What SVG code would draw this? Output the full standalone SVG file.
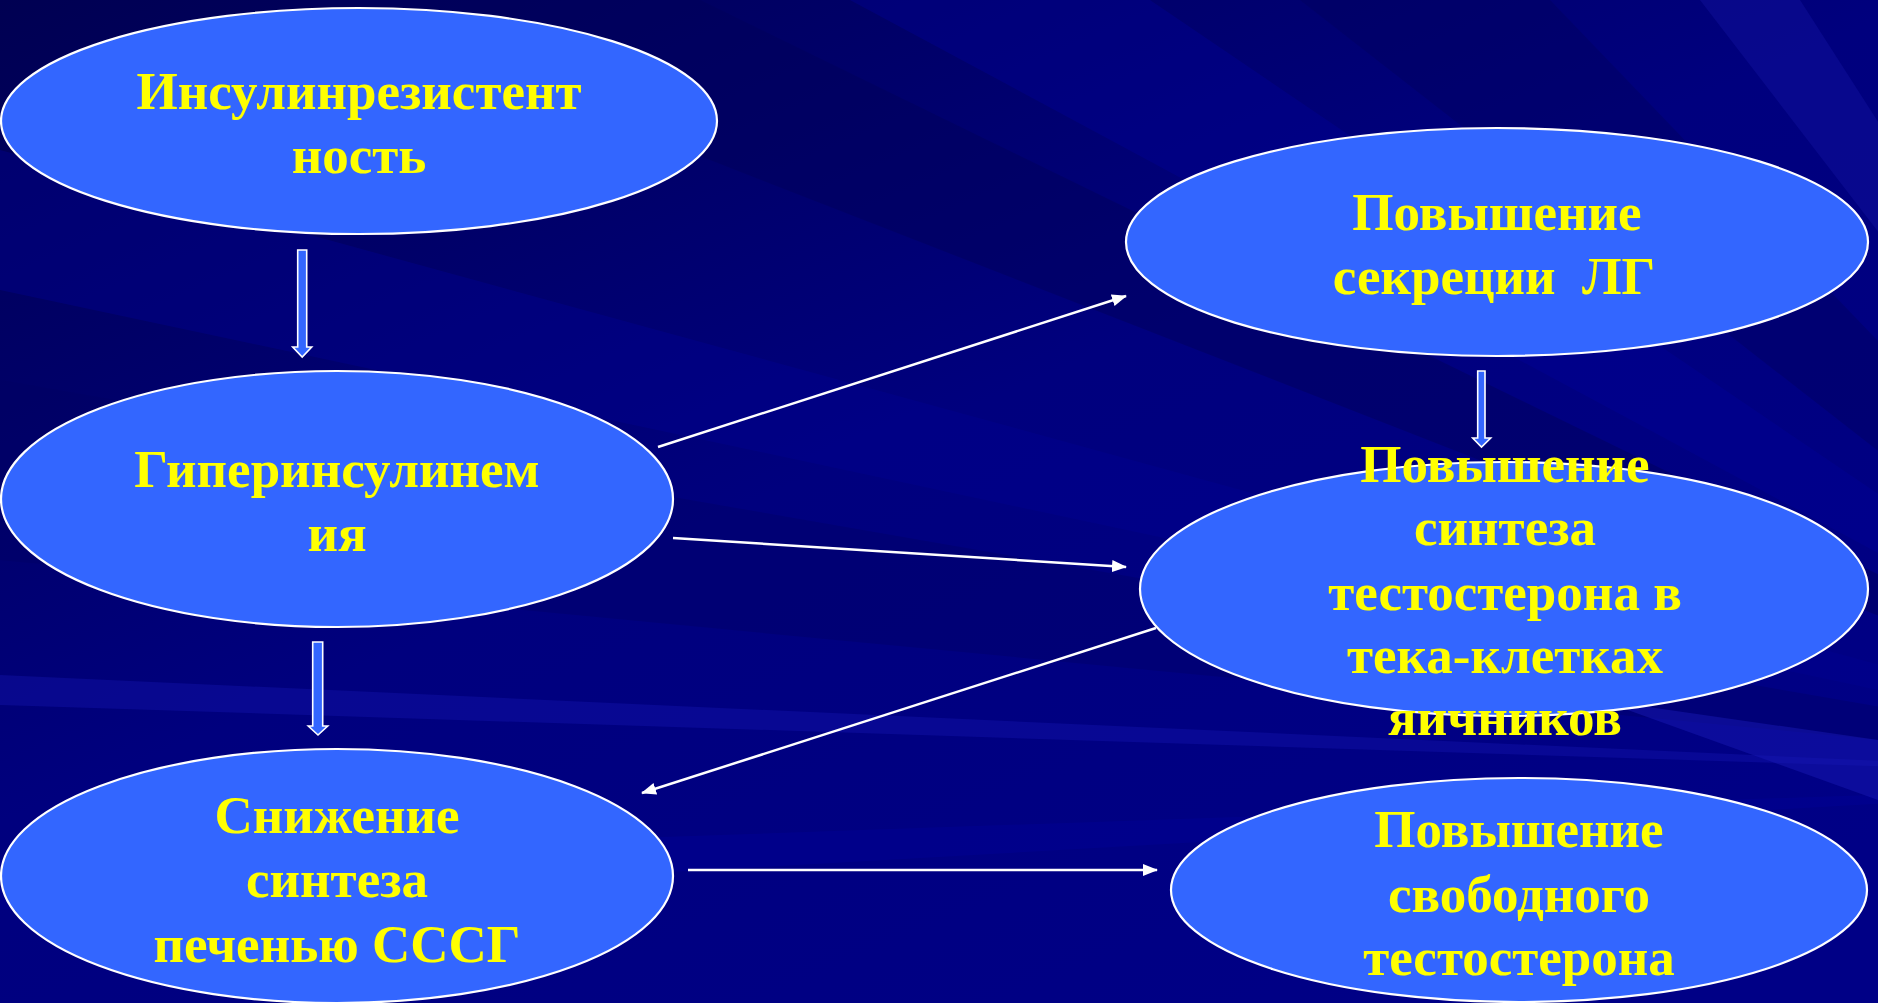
<svg xmlns="http://www.w3.org/2000/svg" width="1878" height="1003" viewBox="0 0 1878 1003">
<style>
.node ellipse{fill:#3366FF;stroke:#FFFFFF;stroke-width:2.2}
.node text{font-family:"Liberation Serif","Times New Roman",serif;font-weight:bold;font-size:53px;fill:#FFFF00;text-anchor:middle}
.thin{stroke:#FFFFFF;stroke-width:2.5;fill:none;marker-end:url(#ah)}
.block{fill:#3366FF;stroke:#FFFFFF;stroke-width:1.6;stroke-linejoin:miter}
</style>
<defs>
<linearGradient id="bg" x1="0" y1="0" x2="0.8" y2="1">
<stop offset="0" stop-color="#000052"/>
<stop offset="0.5" stop-color="#00007E"/>
<stop offset="1" stop-color="#000086"/>
</linearGradient>
<marker id="ah" markerUnits="userSpaceOnUse" markerWidth="16" markerHeight="12" refX="14" refY="6" orient="auto">
<path d="M0,0 L15,6 L0,12 Z" fill="#FFFFFF"/>
</marker>
</defs>
<rect width="1878" height="1003" fill="url(#bg)"/>
<g id="background-rays">
<polygon points="2300,780 300,0 700,0" fill="#000058" opacity="0.45"/>
<polygon points="2300,780 850,0 1150,0" fill="#00009C" opacity="0.35"/>
<polygon points="2300,780 1300,0 1550,0" fill="#00005C" opacity="0.4"/>
<polygon points="2300,780 1700,0 1800,0" fill="#1A1AB0" opacity="0.3"/>
<polygon points="2300,780 0,150 0,290" fill="#000090" opacity="0.4"/>
<polygon points="2300,780 0,380 0,560" fill="#000060" opacity="0.35"/>
<polygon points="2300,780 0,675 0,705" fill="#1515B0" opacity="0.4"/>
<polygon points="2300,780 0,860 0,910" fill="#00009A" opacity="0.35"/>
<polygon points="1878,740 1600,700 1878,800" fill="#1A1AB8" opacity="0.45"/>
</g>
<g id="connectors">
<path class="block" d="M297.7,250 H306.7 V347 H311.7 L302.2,357 L292.7,347 H297.7 Z"/>
<path class="block" d="M312.7,642 H322.7 V726 H327.7 L318,735 L308.3,726 H312.7 Z"/>
<path class="block" d="M1477.7,371 H1485 V438 H1490.7 L1481.5,447 L1472.7,438 H1477.7 Z"/>
<line class="thin" x1="658" y1="447" x2="1126" y2="296"/>
<line class="thin" x1="673" y1="538" x2="1126" y2="567"/>
<line class="thin" x1="1156" y1="628" x2="642" y2="793"/>
<line class="thin" x1="688" y1="870" x2="1157" y2="870"/>
</g>
<g id="node-insulin" class="node">
<ellipse cx="359" cy="121" rx="358" ry="113"/>
<text x="359" y="109">Инсулинрезистент</text>
<text x="359" y="173">ность</text>
</g>
<g id="node-hyper" class="node">
<ellipse cx="337" cy="499" rx="336" ry="128"/>
<text x="337" y="487">Гиперинсулинем</text>
<text x="337" y="551">ия</text>
</g>
<g id="node-sssg" class="node">
<ellipse cx="337" cy="876" rx="336" ry="127"/>
<text x="337" y="833">Снижение</text>
<text x="337" y="897">синтеза</text>
<text x="337" y="962">печенью СССГ</text>
</g>
<g id="node-lg" class="node">
<ellipse cx="1497" cy="242" rx="371" ry="114"/>
<text x="1497" y="230">Повышение</text>
<text x="1494" y="294" xml:space="preserve">секреции  ЛГ</text>
</g>
<g id="node-testo-synth" class="node">
<ellipse cx="1504" cy="589" rx="364" ry="127"/>
<text x="1505" y="482">Повышение</text>
<text x="1505" y="545">синтеза</text>
<text x="1505" y="610">тестостерона в</text>
<text x="1505" y="673">тека-клетках</text>
<text x="1505" y="735">яичников</text>
</g>
<g id="node-free-testo" class="node">
<ellipse cx="1519" cy="890" rx="348" ry="112"/>
<text x="1519" y="847">Повышение</text>
<text x="1519" y="912">свободного</text>
<text x="1519" y="975">тестостерона</text>
</g>
</svg>
